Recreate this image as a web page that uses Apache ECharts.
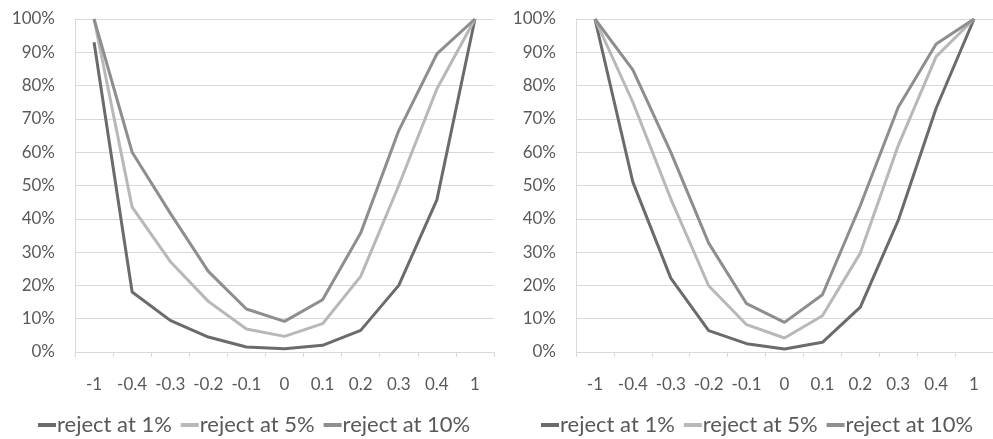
<!DOCTYPE html>
<html>
<head>
<meta charset="utf-8">
<script src="https://cdn.jsdelivr.net/npm/echarts@6/dist/echarts.min.js"></script>
<style>html,body{margin:0;padding:0;background:#fff;}#c{width:993px;height:439px;}</style>
</head>
<body>
<div id="c"></div>
<script>
const categories = ['-1','-0.4','-0.3','-0.2','-0.1','0','0.1','0.2','0.3','0.4','1'];
const yTicks = [0,10,20,30,40,50,60,70,80,90,100];
const seriesNames = ['reject at 1%','reject at 5%','reject at 10%'];
const left1 = [93, 18, 9.5, 4.5, 1.5, 1, 2, 6.5, 20, 45.7, 100];
const left5 = [100, 43.5, 27.2, 15.2, 6.9, 4.7, 8.5, 22.7, 50, 79, 100];
const left10 = [100, 60, 41.7, 24.2, 12.9, 9.2, 15.7, 35.7, 66.5, 89.5, 100];
const right1 = [100, 51, 22.2, 6.4, 2.5, 0.9, 2.9, 13.5, 39.5, 73.2, 100];
const right5 = [100, 75, 46, 19.9, 8.2, 4.2, 10.9, 29.7, 62, 88.7, 100];
const right10 = [100, 84.7, 60, 32.7, 14.5, 8.9, 17.2, 44, 73.5, 92.5, 100];

const colors = ['#6b6b6b', '#b8b8b8', '#8e8e8e'];
const FONT = 'Lato';
const textColor = '#595959';
const gridColor = '#d9d9d9';

function xAxis(gi){
  return {
    type:'category', gridIndex:gi, data:categories, boundaryGap:true,
    axisLine:{show:true, lineStyle:{color:gridColor, width:1}},
    axisTick:{show:true, length:5, interval:0, lineStyle:{color:gridColor}},
    axisLabel:{color:textColor, fontFamily:FONT, fontSize:17, margin:24, interval:0, hideOverlap:false}
  };
}
function yAxis(gi){
  return {
    type:'value', gridIndex:gi, min:yTicks[0], max:yTicks[yTicks.length-1], interval:yTicks[1]-yTicks[0],
    axisLine:{show:true, lineStyle:{color:gridColor, width:1}},
    axisTick:{show:false},
    splitLine:{show:true, lineStyle:{color:gridColor, width:1}},
    axisLabel:{color:textColor, fontFamily:FONT, fontSize:17, margin:20, formatter:'{value}%'}
  };
}
function line(name, data, gi, ci){
  return {
    name:name, type:'line', xAxisIndex:gi, yAxisIndex:gi, data:data,
    symbol:'none', smooth:false,
    lineStyle:{color:colors[ci], width:3},
    itemStyle:{color:colors[ci]}
  };
}
function legend(left){
  return {
    left:left, top:409, data:seriesNames, icon:'rect', itemWidth:18, itemHeight:4, itemGap:9,
    textStyle:{color:textColor, fontFamily:FONT, fontSize:22, padding:[0,0,0,-4]}
  };
}
const chart = echarts.init(document.getElementById('c'), null, {renderer:'canvas'});
chart.setOption({
  animation:false,
  backgroundColor:'#ffffff',
  color:colors,
  grid:[
    {left:75, top:19, width:419, height:333},
    {left:576, top:19, width:418, height:333}
  ],
  xAxis:[xAxis(0), xAxis(1)],
  yAxis:[yAxis(0), yAxis(1)],
  legend:[legend(33), legend(536)],
  series:[
    line(seriesNames[0], left1, 0, 0),
    line(seriesNames[1], left5, 0, 1),
    line(seriesNames[2], left10, 0, 2),
    line(seriesNames[0], right1, 1, 0),
    line(seriesNames[1], right5, 1, 1),
    line(seriesNames[2], right10, 1, 2)
  ]
});
</script>
</body>
</html>
